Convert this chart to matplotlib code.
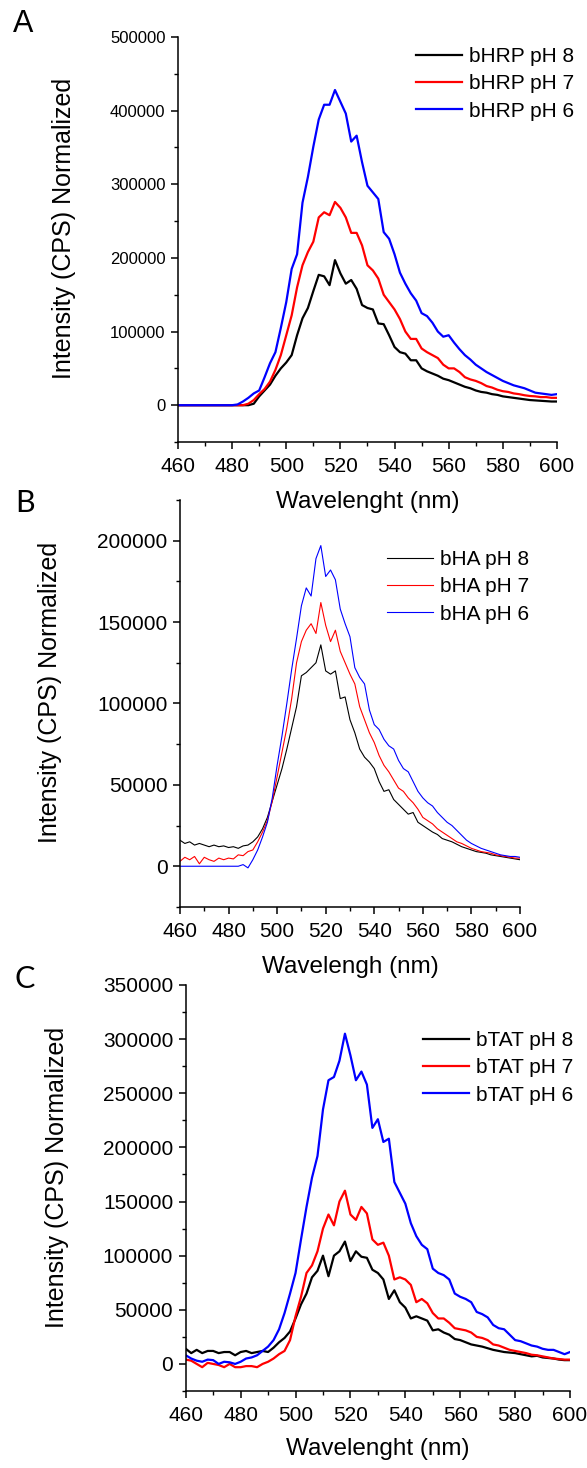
import numpy as np
import matplotlib
matplotlib.use("Agg")
import matplotlib.pyplot as plt
from matplotlib.ticker import MultipleLocator, FuncFormatter

plt.rcParams['font.family'] = ['Liberation Sans', 'DejaVu Sans']

# --- Wavelength grid (nm), shared by every trace ---
wavelength = np.arange(460, 601, 2)

# --- Panel A: bHRP ---
bhrp_ph8 = [0, 0, 0, 0, 0, 0, 0, 0, 0, 0,
            0, 0, 0, 0, 2000, 12000, 20000, 28000, 40000, 50000,
            58000, 68000, 95000, 118000, 132000, 155000, 177000, 175000, 163000, 197000,
            179000, 165000, 170000, 158000, 136000, 132000, 130000, 111000, 110000, 95000,
            79000, 72000, 70000, 61000, 61000, 50000, 46000, 43000, 40000, 36000,
            34000, 31000, 28000, 25000, 23000, 20000, 18000, 17000, 15000, 14000,
            12000, 11000, 10000, 9000, 8000, 7000, 6500, 6000, 5500, 5000,
            5000]
bhrp_ph7 = [0, 0, 0, 0, 0, 0, 0, 0, 0, 0,
            0, 0, 0, 2000, 7000, 15000, 22000, 32000, 48000, 68000,
            95000, 122000, 160000, 190000, 208000, 222000, 255000, 262000, 258000, 276000,
            268000, 255000, 234000, 234000, 217000, 190000, 183000, 172000, 150000, 140000,
            130000, 117000, 100000, 90000, 90000, 77000, 72000, 68000, 64000, 55000,
            50000, 50000, 45000, 38000, 35000, 33000, 30000, 26000, 24000, 21000,
            19000, 18000, 16000, 15000, 13500, 12500, 12000, 11000, 11000, 10000,
            10000]
bhrp_ph6 = [0, 0, 0, 0, 0, 0, 0, 0, 0, 0,
            0, 1000, 5000, 10000, 16000, 20000, 38000, 57000, 72000, 105000,
            140000, 185000, 205000, 275000, 310000, 351000, 388000, 408000, 408000, 428000,
            412000, 396000, 358000, 366000, 330000, 298000, 289000, 280000, 235000, 226000,
            205000, 180000, 165000, 152000, 142000, 125000, 121000, 112000, 100000, 93000,
            95000, 85000, 76000, 68000, 62000, 55000, 50000, 45000, 41000, 37000,
            33000, 30000, 27000, 25000, 23000, 20000, 17000, 16000, 15000, 14000,
            15000]

# --- Panel B: bHA ---
bha_ph8 = [16000, 14000, 15000, 13000, 14000, 13000, 12000, 13000, 12000, 12500,
           11500, 12000, 11000, 12500, 13000, 15000, 18000, 23000, 30000, 40000,
           50000, 60000, 72000, 85000, 98000, 117000, 119000, 122000, 125000, 136000,
           120000, 118000, 120000, 103000, 104000, 90000, 82000, 72000, 67000, 64000,
           60000, 52000, 46000, 47000, 41000, 38000, 35000, 32000, 33000, 27000,
           25000, 23000, 21000, 19500, 17000, 16000, 15000, 13500, 12000, 11000,
           10000, 9000, 8500, 8000, 7000, 6500, 6000, 5500, 5000, 4500,
           4000]
bha_ph7 = [3000, 5500, 4000, 6000, 1500, 5500, 4000, 3000, 5000, 4000,
           5000, 4500, 7000, 6500, 9000, 10000, 15000, 21000, 28000, 40000,
           55000, 70000, 85000, 103000, 125000, 138000, 145000, 149000, 143000, 162000,
           148000, 138000, 145000, 132000, 125000, 118000, 112000, 98000, 90000, 82000,
           76000, 68000, 62000, 58000, 53000, 48000, 46000, 42000, 39000, 35000,
           30000, 28000, 26000, 23000, 21000, 19000, 17000, 15000, 14000, 12500,
           11000, 10000, 9000, 8500, 8000, 7000, 6500, 6000, 5500, 5000,
           5000]
bha_ph6 = [0, 0, 0, 0, 0, 0, 0, 0, 0, 0,
           0, 0, 0, 1000, -1000, 4000, 10000, 18000, 27000, 42000,
           62000, 80000, 100000, 121000, 140000, 160000, 171000, 166000, 189000, 197000,
           178000, 182000, 176000, 158000, 149000, 141000, 122000, 116000, 112000, 96000,
           87000, 84000, 78000, 74000, 72000, 65000, 60000, 58000, 52000, 46000,
           42000, 39000, 37000, 33000, 30000, 27000, 25000, 22000, 19000, 16000,
           14000, 12500, 11000, 10000, 9000, 8000, 7000, 6500, 6000, 6000,
           5500]

# --- Panel C: bTAT ---
btat_ph8 = [14000, 10000, 13000, 10000, 12000, 12000, 10000, 11000, 11000, 8000,
            11000, 12000, 10000, 11000, 12000, 11000, 15000, 20000, 24000, 30000,
            42000, 55000, 65000, 80000, 86000, 100000, 81000, 100000, 104000, 113000,
            95000, 104000, 99000, 98000, 87000, 84000, 78000, 60000, 68000, 57000,
            52000, 42000, 44000, 42000, 40000, 31000, 32000, 29000, 27000, 23000,
            22000, 20000, 18000, 17000, 16000, 14500, 13000, 12000, 11000, 10500,
            10000, 9000, 8000, 7000, 7500, 6000, 5500, 5000, 4000, 3500,
            3500]
btat_ph7 = [4000, 3000, 0, -3000, 1000, 0, -1000, -3000, 0, -3000,
            -3000, -2000, -2000, -3000, 0, 2000, 5000, 9000, 12000, 22000,
            44000, 62000, 84000, 91000, 104000, 125000, 138000, 128000, 150000, 160000,
            138000, 133000, 145000, 139000, 115000, 110000, 112000, 100000, 78000, 80000,
            78000, 73000, 57000, 60000, 56000, 47000, 42000, 42000, 38000, 33000,
            32000, 31000, 29000, 25000, 24000, 22000, 18000, 17000, 15000, 13000,
            12000, 11000, 10000, 8500, 8000, 7000, 6000, 5000, 4500, 4000,
            4000]
btat_ph6 = [8000, 5000, 3000, 2000, 4000, 3500, 0, 2000, 1500, 0,
            2000, 5000, 6000, 8000, 12000, 16000, 22000, 32000, 47000, 65000,
            84000, 115000, 145000, 172000, 192000, 235000, 262000, 265000, 280000, 305000,
            285000, 262000, 270000, 258000, 218000, 226000, 205000, 208000, 168000, 158000,
            148000, 130000, 118000, 110000, 106000, 88000, 84000, 82000, 78000, 65000,
            62000, 60000, 57000, 48000, 46000, 43000, 36000, 33000, 32000, 27000,
            22000, 21000, 19000, 17000, 16000, 14000, 13000, 13000, 11000, 9000,
            11000]

colors = ['black', 'red', 'blue']


def int_fmt(v, pos):
    return '%d' % int(round(v))


def draw_panel(rect, series, labels, ylim, ymajor, xlabel, lw, ytick_size,
               ylabel_xy, xlabel_y, legend_xy):
    ax = fig.add_axes(rect)
    ax.patch.set_visible(False)
    for s, lab, c in zip(series, labels, colors):
        ax.plot(wavelength, s, color=c, lw=lw, label=lab)
    ax.set_xlim(460, 600)
    ax.set_ylim(*ylim)
    ax.xaxis.set_major_locator(MultipleLocator(20))
    ax.xaxis.set_minor_locator(MultipleLocator(10))
    ax.yaxis.set_major_locator(MultipleLocator(ymajor))
    ax.yaxis.set_minor_locator(MultipleLocator(ymajor / 2))
    ax.yaxis.set_major_formatter(FuncFormatter(int_fmt))
    ax.spines['top'].set_visible(False)
    ax.spines['right'].set_visible(False)
    for sp in ('left', 'bottom'):
        ax.spines[sp].set_linewidth(1.1)
    ax.tick_params(which='major', direction='out', length=5, width=1.1)
    ax.tick_params(which='minor', direction='out', length=3, width=1.0)
    ax.tick_params(axis='x', which='major', labelsize=15, pad=6)
    ax.tick_params(axis='y', which='major', labelsize=ytick_size, pad=4)
    ax.set_xlabel(xlabel, fontsize=17.5)
    ax.xaxis.set_label_coords(0.5, xlabel_y)
    ax.set_ylabel('Intensity (CPS) Normalized', fontsize=18)
    ax.yaxis.set_label_coords(*ylabel_xy)
    ax.legend(loc='upper left', bbox_to_anchor=legend_xy, frameon=False,
              fontsize=15, handlelength=2.2, handletextpad=0.35,
              labelspacing=0.4, borderpad=0, borderaxespad=0)
    return ax


fig = plt.figure(figsize=(5.87, 14.68), dpi=100)

# --- Panel A ---
draw_panel([0.3032, 0.6989, 0.6456, 0.2759],
           [bhrp_ph8, bhrp_ph7, bhrp_ph6],
           ['bHRP pH 8', 'bHRP pH 7', 'bHRP pH 6'],
           (-50000, 500000), 100000, 'Wavelenght (nm)', 1.6, 12,
           (-0.268, 0.528), -0.12, (0.628, 0.975))

# --- Panel B ---
draw_panel([0.3066, 0.3822, 0.5792, 0.2772],
           [bha_ph8, bha_ph7, bha_ph6],
           ['bHA pH 8', 'bHA pH 7', 'bHA pH 6'],
           (-25000, 225000), 50000, 'Wavelengh (nm)', 0.8, 15,
           (-0.347, 0.526), -0.12, (0.609, 0.877))

# --- Panel C ---
draw_panel([0.3164, 0.05245, 0.6547, 0.2766],
           [btat_ph8, btat_ph7, btat_ph6],
           ['bTAT pH 8', 'bTAT pH 7', 'bTAT pH 6'],
           (-25000, 350000), 50000, 'Wavelenght (nm)', 1.6, 15,
           (-0.305, 0.525), -0.115, (0.6175, 0.887))

# --- Panel letters ---
fig.text(13 / 587, 1 - 32 / 1468, 'A', fontsize=22, va='baseline', ha='left')
fig.text(15 / 587, 1 - 512 / 1468, 'B', fontsize=22, va='baseline', ha='left',
         family=['Lato', 'DejaVu Sans'])
fig.text(14 / 587, 1 - 988 / 1468, 'C', fontsize=22, va='baseline', ha='left',
         family=['Lato', 'DejaVu Sans'])

fig.savefig('out.png', dpi=100)
